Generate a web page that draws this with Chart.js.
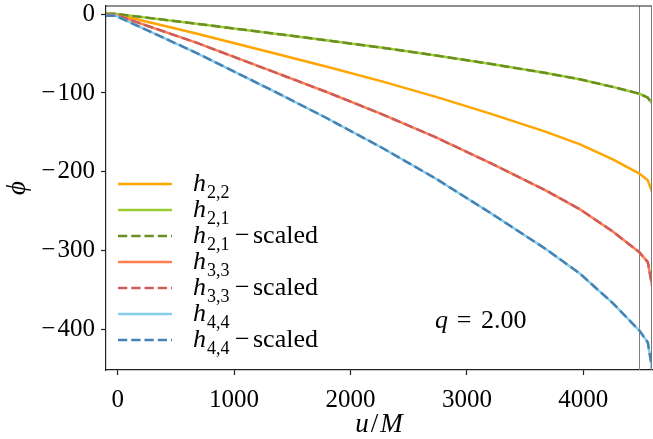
<!DOCTYPE html>
<html><head><meta charset="utf-8">
<script src="https://cdn.jsdelivr.net/npm/chart.js@4/dist/chart.umd.min.js"></script>
<style>html,body{margin:0;padding:0;background:#fff;overflow:hidden}#wrap{width:653px;height:439px;position:relative}</style>
</head><body><div id="wrap"><canvas id="c" width="653" height="439"></canvas></div>
<script>
// ---- data ----
const uValues   = [-100, -15, 675, 1318, 1790, 2263, 2735, 3208, 3680, 3967, 4253, 4482, 4554, 4591];
const h22       = [0, 0, -24.5, -48.5, -66.3, -85, -105, -126.5, -149.5, -165, -184.5, -202.5, -211, -226];
const h21       = [0.5, 0.5, -12, -24, -33, -42.3, -52.3, -63.2, -74.7, -82.6, -92.3, -101, -106, -113.5];
const h21scaled = [0.5, 0.5, -12, -24, -33, -42.3, -52.3, -63.2, -74.7, -82.6, -92.3, -101, -106, -113.5];
const h33       = [-1, -1, -36, -72, -98.5, -126.5, -156.5, -189.5, -224, -247.5, -276, -302.5, -315, -345];
const h33scaled = [-1, -1, -36, -72, -98.5, -126.5, -156.5, -189.5, -224, -247.5, -276, -302.5, -315, -345];
const h44       = [-2, -2, -49, -96, -131.5, -169, -209, -253, -298.5, -329, -367, -402, -417, -450];
const h44scaled = [-2, -2, -49, -96, -131.5, -169, -209, -253, -298.5, -329, -367, -402, -417, -450];
const xTicks = [0, 1000, 2000, 3000, 4000];
const yTicks = [0, -100, -200, -300, -400];
const xRange = [-100, 4590];
const yRange = [-452, 10.5];
const markerU = 4482;
const seriesLabels = ['h2,2', 'h2,1', 'h2,1\u2212scaled', 'h3,3', 'h3,3\u2212scaled', 'h4,4', 'h4,4\u2212scaled'];
const legendSub = ['2,2', '2,1', '2,1', '3,3', '3,3', '4,4', '4,4'];
const legendSuffix = ['', '', 'scaled', '', 'scaled', '', 'scaled'];
const seriesValues = [h22, h21, h21scaled, h33, h33scaled, h44, h44scaled];
const colors = ['#FFA500', '#9ACD32', '#6B8E23', '#FF7F50', '#CD5C5C', '#87CEEB', '#4682B4'];
const dashed = [false, false, true, false, true, false, true];
const annotationText = ['q', '=', '2.00'];
const xTitle = ['u', '/', 'M'];
const yTitle = '\u03D5';

const SERIF = '"Liberation Serif", "DejaVu Serif", serif';
const DASH = [9.25, 4];
const fmt = v => v < 0 ? '\u2212\u200A' + Math.abs(v) : String(v);

const datasets = seriesValues.map((vals, i) => ({
  label: seriesLabels[i],
  data: uValues.map((u, k) => ({x: u, y: vals[k]})),
  borderColor: colors[i],
  backgroundColor: colors[i],
  borderWidth: 2.5,
  borderDash: dashed[i] ? DASH : [],
  borderJoinStyle: 'round',
  pointRadius: 0,
  fill: false,
  tension: 0,
  order: seriesValues.length - i
}));

const overlay = {
  id: 'overlay',
  beforeDatasetsDraw(chart) {
    const {ctx, chartArea: a, scales: {x}} = chart;
    ctx.save();
    const mx = Math.round(x.getPixelForValue(markerU)) + 0.5;
    ctx.strokeStyle = '#808080'; ctx.lineWidth = 1;
    ctx.beginPath(); ctx.moveTo(mx, a.top); ctx.lineTo(mx, a.bottom); ctx.stroke();
    ctx.restore();
  },
  afterDraw(chart) {
    const {ctx, chartArea: a} = chart;
    ctx.save();
    // top & right spines
    ctx.strokeStyle = '#222'; ctx.lineWidth = 1.2;
    ctx.beginPath(); ctx.moveTo(a.left, a.top); ctx.lineTo(a.right, a.top); ctx.stroke();
    ctx.strokeStyle = '#777'; ctx.lineWidth = 1;
    ctx.beginPath(); ctx.moveTo(a.right - 0.5, a.top); ctx.lineTo(a.right - 0.5, a.bottom); ctx.stroke();
    // legend
    ctx.fillStyle = '#000'; ctx.textBaseline = 'alphabetic'; ctx.textAlign = 'left';
    for (let i = 0; i < seriesLabels.length; i++) {
      const y = 184 + i * 26;
      ctx.strokeStyle = colors[i]; ctx.lineWidth = 2.5;
      ctx.setLineDash(dashed[i] ? DASH : []);
      ctx.beginPath(); ctx.moveTo(118, y); ctx.lineTo(172, y); ctx.stroke();
      ctx.setLineDash([]);
      ctx.font = 'italic 26px ' + SERIF;
      ctx.fillText('h', 193, y + 7);
      ctx.font = '18px ' + SERIF;
      ctx.fillText(legendSub[i], 207, y + 13.5);
      if (legendSuffix[i]) {
        ctx.font = '26px ' + SERIF;
        ctx.fillText('\u2212', 235, y + 7);
        ctx.fillText(legendSuffix[i], 253, y + 7);
      }
    }
    // annotation q = 2.00
    ctx.font = 'italic 26px ' + SERIF;
    ctx.fillText(annotationText[0], 435, 328);
    ctx.font = '26px ' + SERIF;
    ctx.textAlign = 'center';
    ctx.fillText(annotationText[1], 464, 328);
    ctx.textAlign = 'left';
    ctx.fillText(annotationText[2], 481, 328);
    // x title u/M
    const cx = (a.left + a.right) / 2;
    ctx.font = 'italic 27px ' + SERIF;
    const w1 = ctx.measureText(xTitle[0]).width, w3 = ctx.measureText(xTitle[2]).width;
    ctx.font = '27px ' + SERIF;
    const w2 = ctx.measureText(xTitle[1]).width;
    const gap = 2;
    let sx = cx - (w1 + w2 + w3 + 2 * gap) / 2;
    ctx.font = 'italic 27px ' + SERIF; ctx.fillText(xTitle[0], sx, 432);
    ctx.font = '27px ' + SERIF; ctx.fillText(xTitle[1], sx + w1 + gap, 432);
    ctx.font = 'italic 27px ' + SERIF; ctx.fillText(xTitle[2], sx + w1 + w2 + 2 * gap, 432);
    // y title
    ctx.translate(25, (a.top + a.bottom) / 2);
    ctx.rotate(-Math.PI / 2);
    ctx.textAlign = 'center';
    ctx.font = 'italic 27px ' + SERIF;
    ctx.fillText(yTitle, 0, 0);
    ctx.restore();
  }
};

new Chart(document.getElementById('c'), {
  type: 'line',
  data: {datasets},
  plugins: [overlay],
  options: {
    responsive: false,
    animation: false,
    devicePixelRatio: 1,
    layout: {padding: {left: 0, right: 1, top: 6, bottom: 0}},
    plugins: {legend: {display: false}, tooltip: {enabled: false}, title: {display: false}},
    scales: {
      x: {
        type: 'linear', min: xRange[0], max: xRange[1],
        afterBuildTicks(s) { s.ticks = xTicks.map(v => ({value: v})); },
        afterFit(s) { s.height = 69; s.paddingLeft = 0; s.paddingRight = 0; },
        grid: {display: true, drawOnChartArea: false, drawTicks: true, tickLength: 5, color: '#222', tickWidth: 1.2},
        border: {display: true, color: '#222', width: 1.2},
        ticks: {color: '#000', font: {family: SERIF, size: 25}, padding: 10, maxRotation: 0, autoSkip: false, callback: v => fmt(v)}
      },
      y: {
        type: 'linear', min: yRange[0], max: yRange[1],
        afterBuildTicks(s) { s.ticks = yTicks.map(v => ({value: v})); },
        afterFit(s) { s.width = 106; s.paddingTop = 0; s.paddingBottom = 0; },
        grid: {display: true, drawOnChartArea: false, drawTicks: true, tickLength: 5, color: '#222', tickWidth: 1.2},
        border: {display: true, color: '#222', width: 1.2},
        ticks: {color: '#000', font: {family: SERIF, size: 25}, padding: 6, autoSkip: false, callback: v => fmt(v)}
      }
    }
  }
});
</script></body></html>
